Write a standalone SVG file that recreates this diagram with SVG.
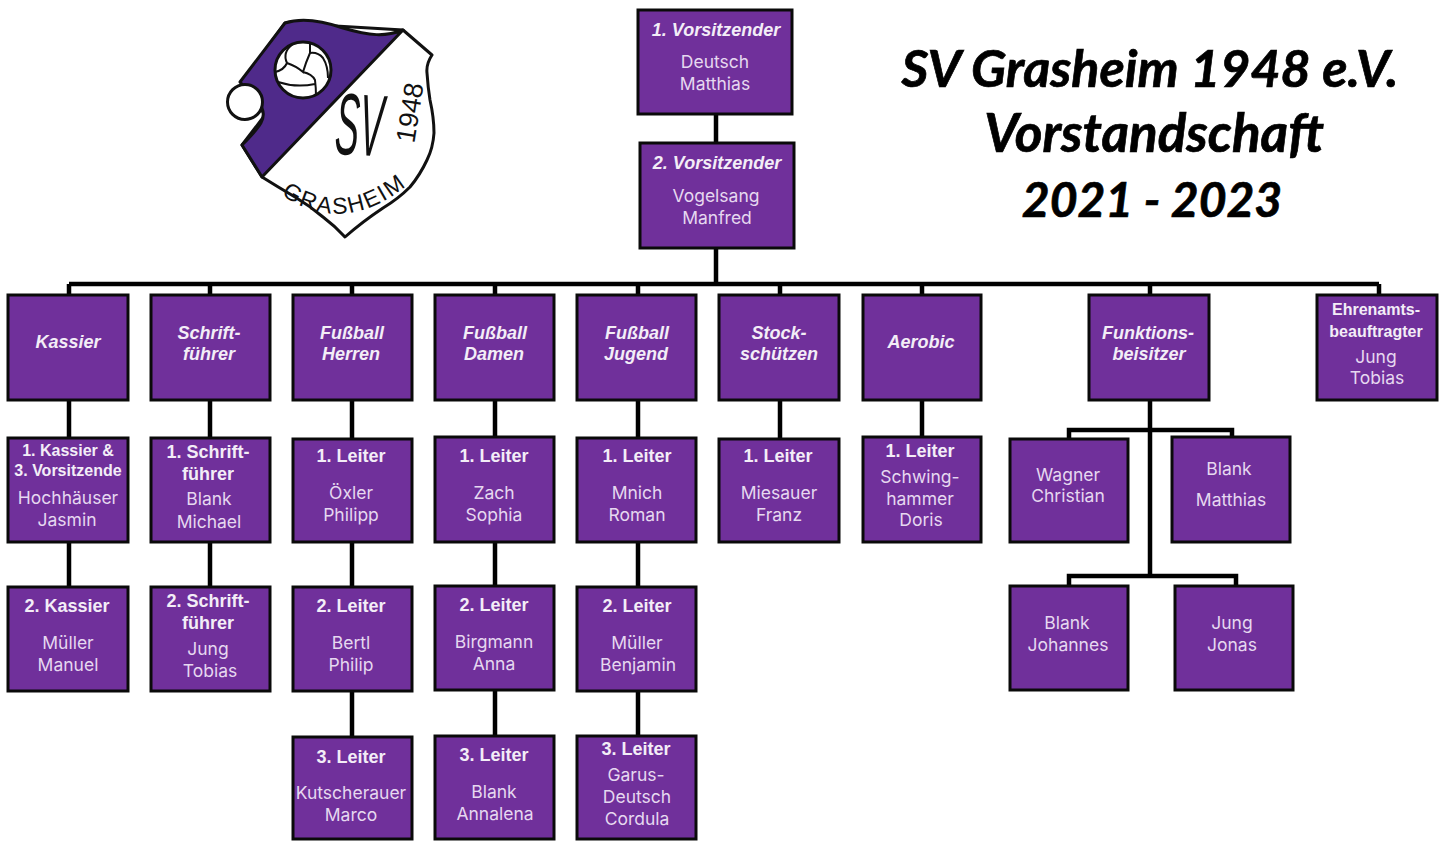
<svg xmlns="http://www.w3.org/2000/svg" width="1440" height="841" viewBox="0 0 1440 841">
<style>
.box{fill:#70309b;stroke:#0a0a0a;stroke-width:3}
.c{fill:none;stroke:#000;stroke-width:4.5}
text{text-anchor:middle;font-family:Inter,"Noto Sans",sans-serif;font-size:17.5px;fill:#e6d8f0}
.h{font-family:"Liberation Sans",sans-serif;font-size:18px;font-weight:700;font-style:italic;fill:#f3edf7}
.b{font-family:"Liberation Sans",sans-serif;font-size:18px;font-weight:700;fill:#f3edf7}
.s{font-size:16px}
.title{font-family:Lato,"Liberation Sans",sans-serif;font-weight:700;font-style:italic;font-size:52px;fill:#000;stroke:#000;stroke-width:.7}
.logo{font-family:"Liberation Sans",Arial,sans-serif;fill:#111}
</style>
<defs><path id="arc" d="M270 186Q342 246 418 176"/></defs>
<g id="logo">
<path d="M403 30L432 55Q426 64 427 73Q428 88 430 100Q434 118 434 133Q433 148 427 160Q420 175 410 187Q398 199 383 208Q362 222 345 237Q335 226 323 217Q310 206 295 197Q278 187 262 177L242 145L265 115L242 82L285 23Z" fill="#fff" stroke="#111" stroke-width="3" stroke-linejoin="round"/>
<path d="M403 30C385 37 370 36 343 28C320 20 300 18 285 23L240 82L262 108C266 118 262 125 242 145L262 177Z" fill="#4f2a8a" stroke="#111" stroke-width="3" stroke-linejoin="round"/>
<circle cx="245" cy="102" r="17.5" fill="#fff" stroke="#111" stroke-width="3"/>
<circle cx="303" cy="70" r="28" fill="#fff" stroke="#111" stroke-width="3"/>
<path d="M293 44Q282 52 287 63Q284 70 275 72M287 63Q296 66 303 72Q306 62 310 53Q318 52 323 58Q328 66 328 78M310 44V53M303 72Q312 74 315 80Q316 88 316 96M278 82Q296 88 315 84" fill="none" stroke="#111" stroke-width="2"/>
<text class="logo" transform="translate(358 155) rotate(3) scale(.72 1.75)" style="font-size:50px;font-style:italic">SV</text>
<text class="logo" transform="translate(419 114) rotate(-81)" style="font-size:27px">1948</text>
<text class="logo" style="font-size:23px;letter-spacing:1.8px"><textPath href="#arc" startOffset="50%">GRASHEIM</textPath></text>
</g>
<g id="connectors" class="c">
<path d="M716 114V143M716 248V284M69 284H1379M69 284V295M210 284V295M352 284V295M495 284V295M638 284V295M780 284V295M922 284V295M1150 284V295M1379 284V295"/>
<path d="M69 400V438M69 542V587M210 400V438M210 542V587M352 400V439M352 542V587M352 691V737M495 400V437M495 542V586M495 690V736M638 400V438M638 542V587M638 691V736M780 400V439M922 400V437"/>
<path d="M1150 400V576M1069 439V430H1232V437M1069 586V576H1236V586"/>
</g>
<g id="title">
<text class="title" x="1150" y="87">SV Grasheim 1948 e.V.</text>
<text class="title" x="1154" y="152" style="font-size:53px">Vorstandschaft</text>
<text class="title" x="1152" y="217" style="font-size:48px">2021 - 2023</text>
</g>
<g id="n-v1"><rect class="box" x="638" y="10" width="154" height="104"/><text class="h" x="716" y="36">1. Vorsitzender</text><text x="715" y="68">Deutsch</text><text x="715" y="90">Matthias</text></g>
<g id="n-v2"><rect class="box" x="640" y="143" width="154" height="105"/><text class="h" x="717" y="169">2. Vorsitzender</text><text x="716" y="202">Vogelsang</text><text x="717" y="224">Manfred</text></g>
<g id="n-kassier"><rect class="box" x="8" y="295" width="120" height="105"/><text class="h" x="68" y="348">Kassier</text></g>
<g id="n-schrift"><rect class="box" x="151" y="295" width="119" height="105"/><text class="h" x="209" y="339">Schrift-</text><text class="h" x="209" y="360">führer</text></g>
<g id="n-herren"><rect class="box" x="293" y="295" width="119" height="105"/><text class="h" x="352" y="339">Fußball</text><text class="h" x="351" y="360">Herren</text></g>
<g id="n-damen"><rect class="box" x="435" y="295" width="119" height="105"/><text class="h" x="495" y="339">Fußball</text><text class="h" x="494" y="360">Damen</text></g>
<g id="n-jugend"><rect class="box" x="577" y="295" width="119" height="105"/><text class="h" x="637" y="339">Fußball</text><text class="h" x="636" y="360">Jugend</text></g>
<g id="n-stock"><rect class="box" x="719" y="295" width="120" height="105"/><text class="h" x="779" y="339">Stock-</text><text class="h" x="779" y="360">schützen</text></g>
<g id="n-aerobic"><rect class="box" x="863" y="295" width="118" height="105"/><text class="h" x="921" y="348">Aerobic</text></g>
<g id="n-funktion"><rect class="box" x="1089" y="295" width="120" height="105"/><text class="h" x="1148" y="339">Funktions-</text><text class="h" x="1149" y="360">beisitzer</text></g>
<g id="n-ehren"><rect class="box" x="1317" y="295" width="120" height="105"/><text class="b s" x="1376" y="315">Ehrenamts-</text><text class="b s" x="1376" y="337">beauftragter</text><text x="1376" y="363">Jung</text><text x="1377" y="384">Tobias</text></g>
<g id="n-k1"><rect class="box" x="8" y="438" width="120" height="104"/><text class="b s" x="68" y="456">1. Kassier &amp;</text><text class="b s" x="68" y="476">3. Vorsitzende</text><text x="68" y="504">Hochhäuser</text><text x="67" y="526">Jasmin</text></g>
<g id="n-k2"><rect class="box" x="8" y="587" width="120" height="104"/><text class="b" x="67" y="612">2. Kassier</text><text x="68" y="649">Müller</text><text x="68" y="671">Manuel</text></g>
<g id="n-s1"><rect class="box" x="151" y="438" width="119" height="104"/><text class="b" x="208" y="458">1. Schrift-</text><text class="b" x="208" y="480">führer</text><text x="209" y="505">Blank</text><text x="209" y="528">Michael</text></g>
<g id="n-s2"><rect class="box" x="151" y="587" width="119" height="104"/><text class="b" x="208" y="607">2. Schrift-</text><text class="b" x="208" y="629">führer</text><text x="208" y="655">Jung</text><text x="210" y="677">Tobias</text></g>
<g id="n-h1"><rect class="box" x="293" y="439" width="119" height="103"/><text class="b" x="351" y="462">1. Leiter</text><text x="351" y="499">Öxler</text><text x="351" y="521">Philipp</text></g>
<g id="n-h2"><rect class="box" x="293" y="587" width="119" height="104"/><text class="b" x="351" y="612">2. Leiter</text><text x="351" y="649">Bertl</text><text x="351" y="671">Philip</text></g>
<g id="n-h3"><rect class="box" x="293" y="737" width="119" height="102"/><text class="b" x="351" y="763">3. Leiter</text><text x="351" y="799">Kutscherauer</text><text x="351" y="821">Marco</text></g>
<g id="n-d1"><rect class="box" x="435" y="437" width="119" height="105"/><text class="b" x="494" y="462">1. Leiter</text><text x="494" y="499">Zach</text><text x="494" y="521">Sophia</text></g>
<g id="n-d2"><rect class="box" x="435" y="586" width="119" height="104"/><text class="b" x="494" y="611">2. Leiter</text><text x="494" y="648">Birgmann</text><text x="494" y="670">Anna</text></g>
<g id="n-d3"><rect class="box" x="435" y="736" width="119" height="103"/><text class="b" x="494" y="761">3. Leiter</text><text x="494" y="798">Blank</text><text x="495" y="820">Annalena</text></g>
<g id="n-j1"><rect class="box" x="577" y="438" width="119" height="104"/><text class="b" x="637" y="462">1. Leiter</text><text x="637" y="499">Mnich</text><text x="637" y="521">Roman</text></g>
<g id="n-j2"><rect class="box" x="577" y="587" width="119" height="104"/><text class="b" x="637" y="612">2. Leiter</text><text x="637" y="649">Müller</text><text x="638" y="671">Benjamin</text></g>
<g id="n-j3"><rect class="box" x="577" y="736" width="119" height="103"/><text class="b" x="636" y="755">3. Leiter</text><text x="636" y="781">Garus-</text><text x="637" y="803">Deutsch</text><text x="637" y="825">Cordula</text></g>
<g id="n-st1"><rect class="box" x="719" y="439" width="120" height="103"/><text class="b" x="778" y="462">1. Leiter</text><text x="779" y="499">Miesauer</text><text x="779" y="521">Franz</text></g>
<g id="n-a1"><rect class="box" x="863" y="437" width="118" height="105"/><text class="b" x="920" y="457">1. Leiter</text><text x="920" y="483">Schwing-</text><text x="920" y="505">hammer</text><text x="921" y="526">Doris</text></g>
<g id="n-f1"><rect class="box" x="1010" y="439" width="118" height="103"/><text x="1068" y="481">Wagner</text><text x="1068" y="502">Christian</text></g>
<g id="n-f2"><rect class="box" x="1172" y="437" width="118" height="105"/><text x="1229" y="475">Blank</text><text x="1231" y="506">Matthias</text></g>
<g id="n-f3"><rect class="box" x="1010" y="586" width="118" height="104"/><text x="1067" y="629">Blank</text><text x="1068" y="651">Johannes</text></g>
<g id="n-f4"><rect class="box" x="1175" y="586" width="118" height="104"/><text x="1232" y="629">Jung</text><text x="1232" y="651">Jonas</text></g>
</svg>
